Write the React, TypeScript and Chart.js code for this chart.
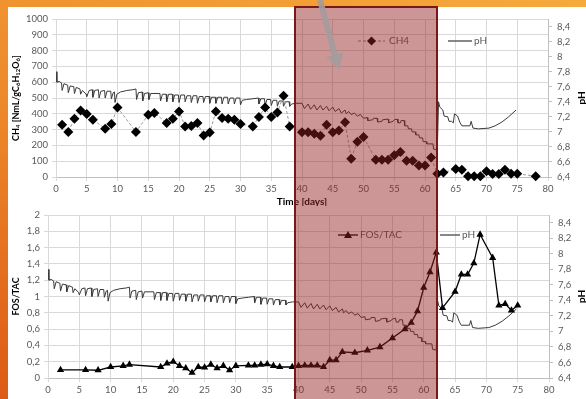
import React, { useEffect, useRef } from "react";
import { Chart, registerables } from "chart.js";
Chart.register(...registerables);

// ---------- DATA ----------
const ch4Days = [1, 2, 3, 4, 5, 6, 8, 9, 10, 13, 15, 16, 18, 19, 20, 21, 22, 23, 24, 25, 26, 27, 28, 29, 30, 32, 33, 34, 35, 36, 37, 38, 40, 41, 42, 43, 44, 45, 46, 47, 48, 49, 50, 52, 53, 54, 55, 56, 57, 58, 59, 60, 61, 62, 63, 65, 66, 67, 68, 69, 70, 71, 72, 73, 74, 75, 78];
const ch4Values = [330, 285, 369, 421, 398, 362, 306, 335, 440, 285, 394, 405, 342, 369, 415, 320, 322, 342, 263, 282, 415, 373, 369, 363, 335, 320, 380, 440, 380, 409, 515, 320, 283, 283, 274, 261, 331, 283, 295, 346, 116, 223, 253, 109, 109, 109, 137, 158, 103, 103, 72, 72, 124, 21, 29, 51, 46, 5, 5, 5, 36, 19, 19, 46, 21, 21, 5];

const fosDays = [2, 6, 8, 10, 12, 13, 18, 19, 20, 21, 22, 23, 24, 25, 26, 27, 28, 29, 30, 32, 33, 34, 35, 36, 37, 39, 40, 41, 42, 43, 44, 45, 46, 47, 49, 51, 53, 55, 57, 58, 59, 60, 61, 62, 63, 65, 66, 67, 68, 69, 71, 72, 73, 74, 75];
const fosValues = [0.10, 0.10, 0.095, 0.135, 0.15, 0.165, 0.135, 0.18, 0.20, 0.15, 0.12, 0.065, 0.135, 0.13, 0.165, 0.12, 0.15, 0.095, 0.15, 0.155, 0.155, 0.165, 0.17, 0.15, 0.135, 0.135, 0.15, 0.155, 0.155, 0.155, 0.135, 0.22, 0.22, 0.32, 0.31, 0.34, 0.38, 0.49, 0.60, 0.68, 0.82, 1.11, 1.30, 1.54, 0.86, 1.06, 1.27, 1.27, 1.41, 1.76, 1.475, 0.89, 0.91, 0.83, 0.89];

const phDays = [
  0, 0.15, 0.5, 0.9, 1.0, 1.3, 1.9, 2.0, 2.3, 2.9, 3.0, 3.3, 3.9, 4.0, 4.3, 4.9, 5.0, 5.4, 5.9, 6.0, 6.3, 6.9, 7.0, 7.3, 7.9, 8.0, 8.3, 8.9, 9.0, 9.3, 9.5, 9.6, 9.9,
  10.5, 11.5, 12.5, 13.0, 13.1, 13.4, 14.0, 14.1, 14.4, 15.0, 15.1, 15.4, 16.9, 17.0, 17.3, 17.9, 18.0, 18.3, 18.9, 19.0, 19.3, 19.9, 20.0, 20.3,
  20.9, 21.0, 21.3, 21.9, 22.0, 22.3, 22.9, 23.0, 23.3, 23.9, 24.0, 24.3, 24.9, 25.0, 25.3, 25.9, 26.0, 26.3, 26.9, 27.0, 27.3, 27.9, 28.0, 28.3,
  28.9, 29.0, 29.3, 29.9, 30.0, 30.3, 31.0, 32.0, 32.9, 33.0, 33.3, 33.9, 34.0, 34.3, 34.9, 35.0, 35.3, 35.9, 36.0, 36.3, 36.9, 37.0, 37.3, 37.9, 38.0, 38.3, 39.0,
  40.0, 40.4, 41.0, 41.4, 42.0, 42.4, 43.0, 43.4, 44.0, 44.4, 45.0, 45.4, 46.0, 46.4, 47.0, 47.2, 47.6, 48.0, 48.5, 49.0, 49.5, 50.0, 50.6, 50.7,
  51.5, 51.6, 52.2, 52.3, 53.0, 53.1, 54.0, 54.1, 54.8, 55.0, 55.5, 55.6, 56.0, 56.1, 56.6, 56.7, 57.2, 57.3, 57.8, 57.9, 58.4, 58.5, 59.0, 59.1,
  59.6, 59.7, 60.2, 60.3, 61.3, 61.4, 62.0, 62.2, 62.4, 62.9, 63.1, 63.7, 63.9, 64.3, 64.6, 64.8, 65.3, 65.7, 66.0, 67.3, 67.5, 67.8, 68.7, 70.4,
  71.4, 72.5, 73.6, 74.8,
];
const phValues = [
  7.80, 7.66, 7.67, 7.65, 7.55, 7.64, 7.62, 7.52, 7.61, 7.60, 7.51, 7.59, 7.57, 7.50, 7.55, 7.50, 7.47, 7.55, 7.56, 7.46, 7.55, 7.56, 7.45, 7.54, 7.55, 7.45, 7.54, 7.54, 7.44, 7.52, 7.53, 7.39, 7.50,
  7.53, 7.55, 7.56, 7.57, 7.43, 7.52, 7.53, 7.41, 7.51, 7.52, 7.43, 7.51, 7.51, 7.41, 7.50, 7.50, 7.40, 7.50, 7.50, 7.40, 7.49, 7.49, 7.39, 7.49,
  7.49, 7.40, 7.48, 7.48, 7.39, 7.48, 7.48, 7.38, 7.47, 7.47, 7.39, 7.47, 7.47, 7.38, 7.46, 7.46, 7.38, 7.46, 7.46, 7.37, 7.46, 7.46, 7.37, 7.45,
  7.45, 7.37, 7.45, 7.45, 7.36, 7.42, 7.43, 7.44, 7.45, 7.37, 7.44, 7.44, 7.35, 7.43, 7.43, 7.35, 7.42, 7.42, 7.34, 7.41, 7.41, 7.34, 7.40, 7.40, 7.34, 7.37, 7.38,
  7.38, 7.31, 7.37, 7.30, 7.36, 7.29, 7.35, 7.29, 7.34, 7.28, 7.33, 7.27, 7.31, 7.25, 7.29, 7.24, 7.27, 7.23, 7.25, 7.21, 7.23, 7.18, 7.19, 7.15,
  7.16, 7.18, 7.18, 7.13, 7.14, 7.16, 7.17, 7.12, 7.14, 7.16, 7.17, 7.12, 7.12, 7.15, 7.15, 7.08, 7.08, 7.04, 7.04, 7.00, 7.00, 6.96, 6.96, 6.92,
  6.92, 6.87, 6.87, 6.84, 6.84, 6.77, 6.76, 7.40, 7.33, 7.29, 7.21, 7.20, 7.14, 7.14, 7.12, 7.24, 7.21, 7.12, 7.08, 7.08, 7.14, 7.05, 7.04, 7.05,
  7.08, 7.13, 7.20, 7.29,
];

// ---------- STYLE ----------
const FONT = "Lato, 'Liberation Sans', sans-serif";
const TICK_COLOR = "#595959";
const GRID = "#d9d9d9";
const AXIS = "#bfbfbf";

const fmt = (v: number | string) => String(Math.round(Number(v) * 10) / 10).replace(".", ",");

type Seg = [string, boolean];
type LegendItem = { kind: "ch4" | "ph" | "fos"; x1: number; x2: number; y: number; textX: number; text: string };
type DecorCfg = { leftTitle: Seg[]; rightTitle: string; xTitle?: string; xTitleY?: number; legends: LegendItem[] };

function drawSegs(ctx: CanvasRenderingContext2D, segs: Seg[], size: number) {
  const main = `bold ${size}px ${FONT}`;
  const sub = `bold ${Math.round(size * 0.7)}px ${FONT}`;
  let total = 0;
  for (const [t, s] of segs) {
    ctx.font = s ? sub : main;
    total += ctx.measureText(t).width;
  }
  let x = -total / 2;
  for (const [t, s] of segs) {
    ctx.font = s ? sub : main;
    ctx.fillText(t, x, s ? 2.5 : 0);
    x += ctx.measureText(t).width;
  }
}

function makeDecor(cfg: DecorCfg) {
  return {
    id: "decor",
    afterDraw(chart: any) {
      const { ctx, chartArea, width } = chart;
      const midY = (chartArea.top + chartArea.bottom) / 2;
      ctx.save();
      ctx.fillStyle = "#000";
      ctx.textBaseline = "middle";
      ctx.textAlign = "left";
      // left title
      ctx.save();
      ctx.translate(8, midY);
      ctx.rotate(-Math.PI / 2);
      drawSegs(ctx, cfg.leftTitle, 9);
      ctx.restore();
      // right title
      ctx.save();
      ctx.translate(width - 4, midY);
      ctx.rotate(-Math.PI / 2);
      drawSegs(ctx, [[cfg.rightTitle, false]], 10);
      ctx.restore();
      // x title
      if (cfg.xTitle) {
        ctx.save();
        ctx.translate((chartArea.left + chartArea.right) / 2, cfg.xTitleY || 0);
        drawSegs(ctx, [[cfg.xTitle, false]], 10);
        ctx.restore();
      }
      // legends
      for (const it of cfg.legends) {
        ctx.save();
        const mx = (it.x1 + it.x2) / 2;
        if (it.kind === "ch4") {
          ctx.strokeStyle = "#808080";
          ctx.lineWidth = 1;
          ctx.setLineDash([3, 2]);
          ctx.beginPath(); ctx.moveTo(it.x1, it.y); ctx.lineTo(it.x2, it.y); ctx.stroke();
          ctx.setLineDash([]);
          ctx.fillStyle = "#000";
          ctx.beginPath();
          ctx.moveTo(mx, it.y - 4.5); ctx.lineTo(mx + 4.5, it.y); ctx.lineTo(mx, it.y + 4.5); ctx.lineTo(mx - 4.5, it.y);
          ctx.closePath(); ctx.fill();
        } else if (it.kind === "ph") {
          ctx.strokeStyle = "#6a6a6a";
          ctx.lineWidth = 1.6;
          ctx.beginPath(); ctx.moveTo(it.x1, it.y); ctx.lineTo(it.x2, it.y); ctx.stroke();
        } else {
          ctx.strokeStyle = "#000";
          ctx.lineWidth = 1.3;
          ctx.beginPath(); ctx.moveTo(it.x1, it.y); ctx.lineTo(it.x2, it.y); ctx.stroke();
          ctx.fillStyle = "#000";
          ctx.beginPath();
          ctx.moveTo(mx, it.y - 4); ctx.lineTo(mx + 4, it.y + 3); ctx.lineTo(mx - 4, it.y + 3);
          ctx.closePath(); ctx.fill();
        }
        ctx.fillStyle = TICK_COLOR;
        ctx.font = `10px ${FONT}`;
        ctx.textBaseline = "middle";
        ctx.textAlign = "left";
        ctx.fillText(it.text, it.textX, it.y);
        ctx.restore();
      }
      ctx.restore();
    },
  };
}

function xScale(height: number) {
  return {
    type: "linear",
    min: 0,
    max: 80,
    ticks: { stepSize: 5, color: TICK_COLOR, font: { family: FONT, size: 9.5 }, maxRotation: 0, padding: 2 },
    grid: { color: GRID, tickLength: 4 },
    border: { color: AXIS },
    afterFit(s: any) { s.height = height; s.paddingLeft = 0; s.paddingRight = 0; },
  };
}

function yLeft(min: number, max: number, step: number, width: number) {
  return {
    position: "left",
    min, max,
    ticks: { stepSize: step, color: TICK_COLOR, font: { family: FONT, size: 9.5 }, padding: 4, callback: fmt },
    grid: { color: GRID, tickLength: 4 },
    border: { color: GRID },
    afterFit(s: any) { s.width = width; s.paddingTop = 0; s.paddingBottom = 0; },
  };
}

function yRight(width: number) {
  return {
    position: "right",
    min: 6.4, max: 8.5,
    ticks: { stepSize: 0.2, includeBounds: false, color: TICK_COLOR, font: { family: FONT, size: 9.5 }, padding: 5, callback: fmt },
    grid: { drawOnChartArea: false, color: AXIS, tickLength: 4 },
    border: { color: AXIS },
    afterFit(s: any) { s.width = width; s.paddingTop = 0; s.paddingBottom = 0; },
  };
}

const phPoints = () => phDays.map((d, i) => ({ x: d, y: phValues[i] }));

export default function App() {
  const topRef = useRef<HTMLCanvasElement>(null);
  const botRef = useRef<HTMLCanvasElement>(null);

  useEffect(() => {
    document.body.style.margin = "0";
    const top = new Chart(topRef.current as HTMLCanvasElement, {
      type: "line",
      data: {
        datasets: [
          {
            label: "CH4",
            data: ch4Days.map((d, i) => ({ x: d, y: ch4Values[i] })),
            yAxisID: "y",
            borderColor: "#9a9a9a",
            borderWidth: 1,
            borderDash: [3, 2],
            pointStyle: "rectRot",
            pointRadius: 5,
            pointBackgroundColor: "#000",
            pointBorderColor: "#000",
            pointBorderWidth: 0,
            clip: false,
            order: 0,
          },
          {
            label: "pH",
            data: phPoints(),
            yAxisID: "y2",
            borderColor: "#3a3a3a",
            borderWidth: 1,
            pointRadius: 0,
            order: 1,
          },
        ],
      } as any,
      options: {
        animation: false,
        responsive: false,
        maintainAspectRatio: false,
        layout: { padding: { top: 12, left: 0, right: 0, bottom: 0 } },
        plugins: { legend: { display: false }, tooltip: { enabled: false } },
        scales: {
          x: xScale(29),
          y: yLeft(0, 1000, 100, 48),
          y2: yRight(38),
        } as any,
      },
      plugins: [
        makeDecor({
          leftTitle: [["CH", false], ["4", true], [" [NmL/gC", false], ["6", true], ["H", false], ["12", true], ["O", false], ["6", true], ["]", false]],
          rightTitle: "pH",
          xTitle: "Time [days]",
          xTitleY: 194.5,
          legends: [
            { kind: "ch4", x1: 350, x2: 377, y: 34, textX: 381, text: "CH4" },
            { kind: "ph", x1: 440, x2: 464, y: 34, textX: 466, text: "pH" },
          ],
        }) as any,
      ],
    });

    const bot = new Chart(botRef.current as HTMLCanvasElement, {
      type: "line",
      data: {
        datasets: [
          {
            label: "FOS/TAC",
            data: fosDays.map((d, i) => ({ x: d, y: fosValues[i] })),
            yAxisID: "y",
            borderColor: "#000",
            borderWidth: 1.3,
            pointStyle: "triangle",
            pointRadius: 4.2,
            pointBackgroundColor: "#000",
            pointBorderColor: "#000",
            pointBorderWidth: 0,
            clip: false,
            order: 0,
          },
          {
            label: "pH",
            data: phPoints(),
            yAxisID: "y2",
            borderColor: "#3a3a3a",
            borderWidth: 1,
            pointRadius: 0,
            order: 1,
          },
        ],
      } as any,
      options: {
        animation: false,
        responsive: false,
        maintainAspectRatio: false,
        layout: { padding: { top: 9, left: 0, right: 0, bottom: 0 } },
        plugins: { legend: { display: false }, tooltip: { enabled: false } },
        scales: {
          x: xScale(21),
          y: yLeft(0, 2, 0.2, 40),
          y2: yRight(37),
        } as any,
      },
      plugins: [
        makeDecor({
          leftTitle: [["FOS/TAC", false]],
          rightTitle: "pH",
          legends: [
            { kind: "fos", x1: 330, x2: 350, y: 29, textX: 352, text: "FOS/TAC" },
            { kind: "ph", x1: 432, x2: 452, y: 29, textX: 454, text: "pH" },
          ],
        }) as any,
      ],
    });

    return () => {
      top.destroy();
      bot.destroy();
    };
  }, []);

  return (
    <div
      style={{
        position: "relative",
        width: 586,
        height: 399,
        overflow: "hidden",
        background: "linear-gradient(20deg, #dc5a16 0%, #ec8628 45%, #f6aa3c 100%)",
      }}
    >
      <div style={{ position: "absolute", left: 8, top: 7, right: 0, bottom: 0, background: "#fff" }} />
      <canvas ref={topRef} width={578} height={199} style={{ position: "absolute", left: 8, top: 7 }} />
      <canvas ref={botRef} width={578} height={193} style={{ position: "absolute", left: 8, top: 206 }} />
      <div
        style={{
          position: "absolute",
          left: 294,
          top: 6,
          width: 144,
          height: 400,
          boxSizing: "border-box",
          border: "2px solid #7a1818",
          background: "rgba(149,32,32,0.47)",
        }}
      />
      <svg width={586} height={399} style={{ position: "absolute", left: 0, top: 0 }}>
        <polygon
          points="317.1,0.8 322.9,-0.8 337.7,53.8 343.5,52.2 339,70 326.1,57 331.9,55.4"
          fill="rgba(165,155,155,0.92)"
        />
      </svg>
    </div>
  );
}
